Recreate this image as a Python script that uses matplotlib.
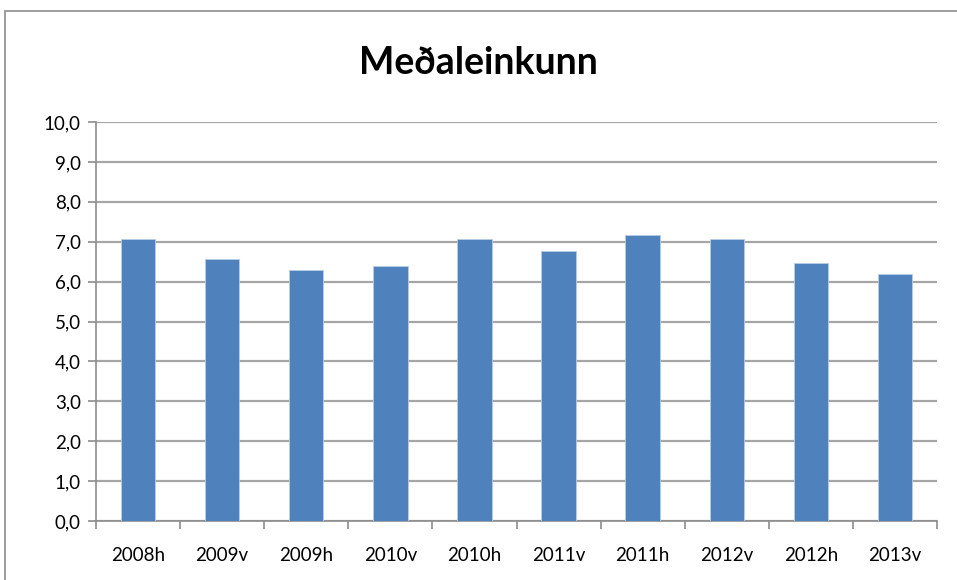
import numpy as np
import matplotlib.pyplot as plt
from matplotlib.patches import Rectangle
from matplotlib.ticker import FuncFormatter, FixedLocator

plt.rcParams['font.family'] = ['Lato', 'DejaVu Sans']

# Gögn
timabil = ["2008h", "2009v", "2009h", "2010v", "2010h", "2011v", "2011h", "2012v", "2012h", "2013v"]
medaleinkunn = [7.08, 6.57, 6.28, 6.38, 7.08, 6.77, 7.17, 7.08, 6.47, 6.18]

fig = plt.figure(figsize=(9.57, 5.80), dpi=100)
# rammi utan um grafið
fig.patches.append(Rectangle((5/957, -0.05), 1.1, 1 - 11/580 + 0.05, transform=fig.transFigure,
                             fill=False, edgecolor='#8c8c8c', linewidth=1.2))

ax = fig.add_axes([96/957, 1 - 521/580, (937 - 96)/957, (521 - 122)/580])
x = np.arange(len(timabil))
ax.bar(x, medaleinkunn, width=0.41, color='#4f81bd', edgecolor='#b9cde5', linewidth=0.6, zorder=3)

ax.set_xlim(-0.5, len(timabil) - 0.5)
ax.set_ylim(0, 10)
ax.set_yticks(np.arange(0, 11, 1))
ax.yaxis.set_major_formatter(FuncFormatter(lambda v, p: f"{v:.1f}".replace('.', ',')))
ax.set_xticks(x)
ax.set_xticklabels(timabil)
ax.xaxis.set_minor_locator(FixedLocator(np.arange(-0.5, len(timabil), 1)))
ax.tick_params(axis='x', which='major', length=0, pad=19, labelsize=13.5)
ax.tick_params(axis='x', which='minor', length=6, color='#8c8c8c', width=1.2)
ax.tick_params(axis='y', length=6, color='#8c8c8c', width=1.2, labelsize=13.5, pad=5)

ax.grid(axis='y', color='#a6a6a6', linewidth=1.6, zorder=0)
for s in ['top', 'right']:
    ax.spines[s].set_visible(False)
for s in ['left', 'bottom']:
    ax.spines[s].set_color('#8c8c8c')
    ax.spines[s].set_linewidth(1.2)

fig.text(0.5, 1 - 63/580, "Meðaleinkunn", ha='center', va='center', fontsize=27, fontweight='bold')

fig.savefig("out.png", dpi=100)
